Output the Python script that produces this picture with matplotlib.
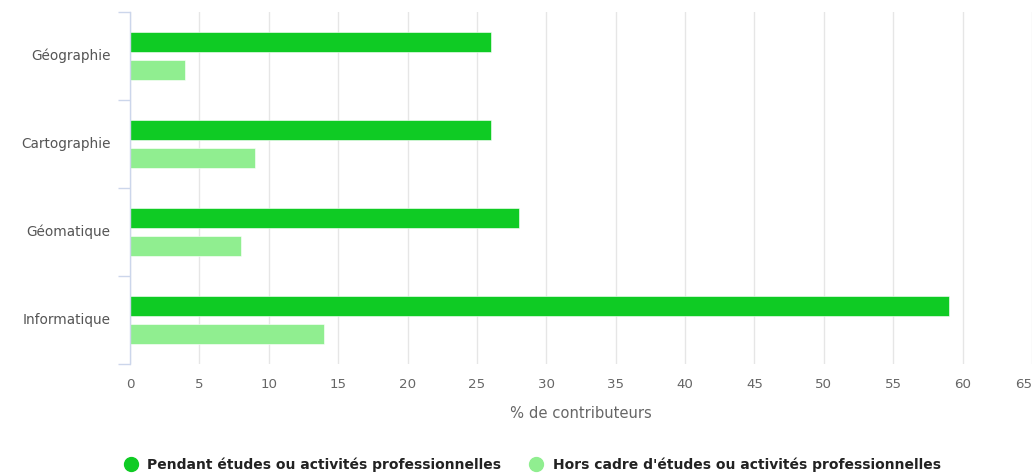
import numpy as np
import matplotlib.pyplot as plt
import matplotlib.transforms as mtransforms
from matplotlib.lines import Line2D

categories = ['Géographie', 'Cartographie', 'Géomatique', 'Informatique']
pendant = [26, 26, 28, 59]
hors_cadre = [4, 9, 8, 14]
series_names = ['Pendant études ou activités professionnelles',
                "Hors cadre d'études ou activités professionnelles"]
x_ticks = list(range(0, 70, 5))

DARK = '#0fcb24'
LIGHT = '#90ee90'
AXIS = '#ccd6eb'
GRID = '#e6e6e6'
LABEL = '#666666'

plt.rcParams['font.family'] = ['DejaVu Sans']

fig = plt.figure(figsize=(10.35, 4.73), dpi=100)
ax = fig.add_axes([0.1256, 0.2304, 0.8714, 0.7442])

y = np.arange(len(categories))
h = 0.227
ax.barh(y - 0.159, pendant, height=h, color=DARK, edgecolor='white', linewidth=0.4, zorder=3)
ax.barh(y + 0.159, hors_cadre, height=h, color=LIGHT, edgecolor='white', linewidth=0.4, zorder=3)

ax.set_xlim(0, 65)
ax.set_ylim(len(categories) - 0.5, -0.5)

ax.set_xticks(x_ticks)
ax.set_xticklabels([str(t) for t in x_ticks], color=LABEL, fontsize=9.6)
ax.get_xticklabels()[-1].set_ha('right')
ax.tick_params(axis='x', length=0, pad=10)
ax.grid(axis='x', color=GRID, linewidth=1, zorder=0)

ax.set_yticks(y)
ax.set_yticklabels(categories, color='#555555', fontsize=9.8)
ax.tick_params(axis='y', which='major', length=0, pad=14)
# nudge category labels up a little
shift = mtransforms.ScaledTranslation(0, 2 / 100, fig.dpi_scale_trans)
for lbl in ax.get_yticklabels():
    lbl.set_transform(lbl.get_transform() + shift)
ax.set_yticks(np.arange(-0.5, len(categories)), minor=True)
ax.tick_params(axis='y', which='minor', length=9, width=1, color=AXIS)

for s in ['top', 'right', 'bottom']:
    ax.spines[s].set_visible(False)
ax.spines['left'].set_color(AXIS)
ax.spines['left'].set_linewidth(1)
ax.spines['left'].set_zorder(4)

ax.set_xlabel('% de contributeurs', color=LABEL, fontsize=10.6, labelpad=11)

handles = [Line2D([], [], marker='o', linestyle='', markersize=10, color=DARK),
           Line2D([], [], marker='o', linestyle='', markersize=10, color=LIGHT)]
leg = fig.legend(handles, series_names, loc='center', bbox_to_anchor=(0.511, 0.017),
                 ncol=2, frameon=False, handletextpad=0.2, columnspacing=1.5,
                 prop={'weight': 'bold', 'size': 10})
for t in leg.get_texts():
    t.set_color('#222222')

fig.savefig('out.png', dpi=100)
